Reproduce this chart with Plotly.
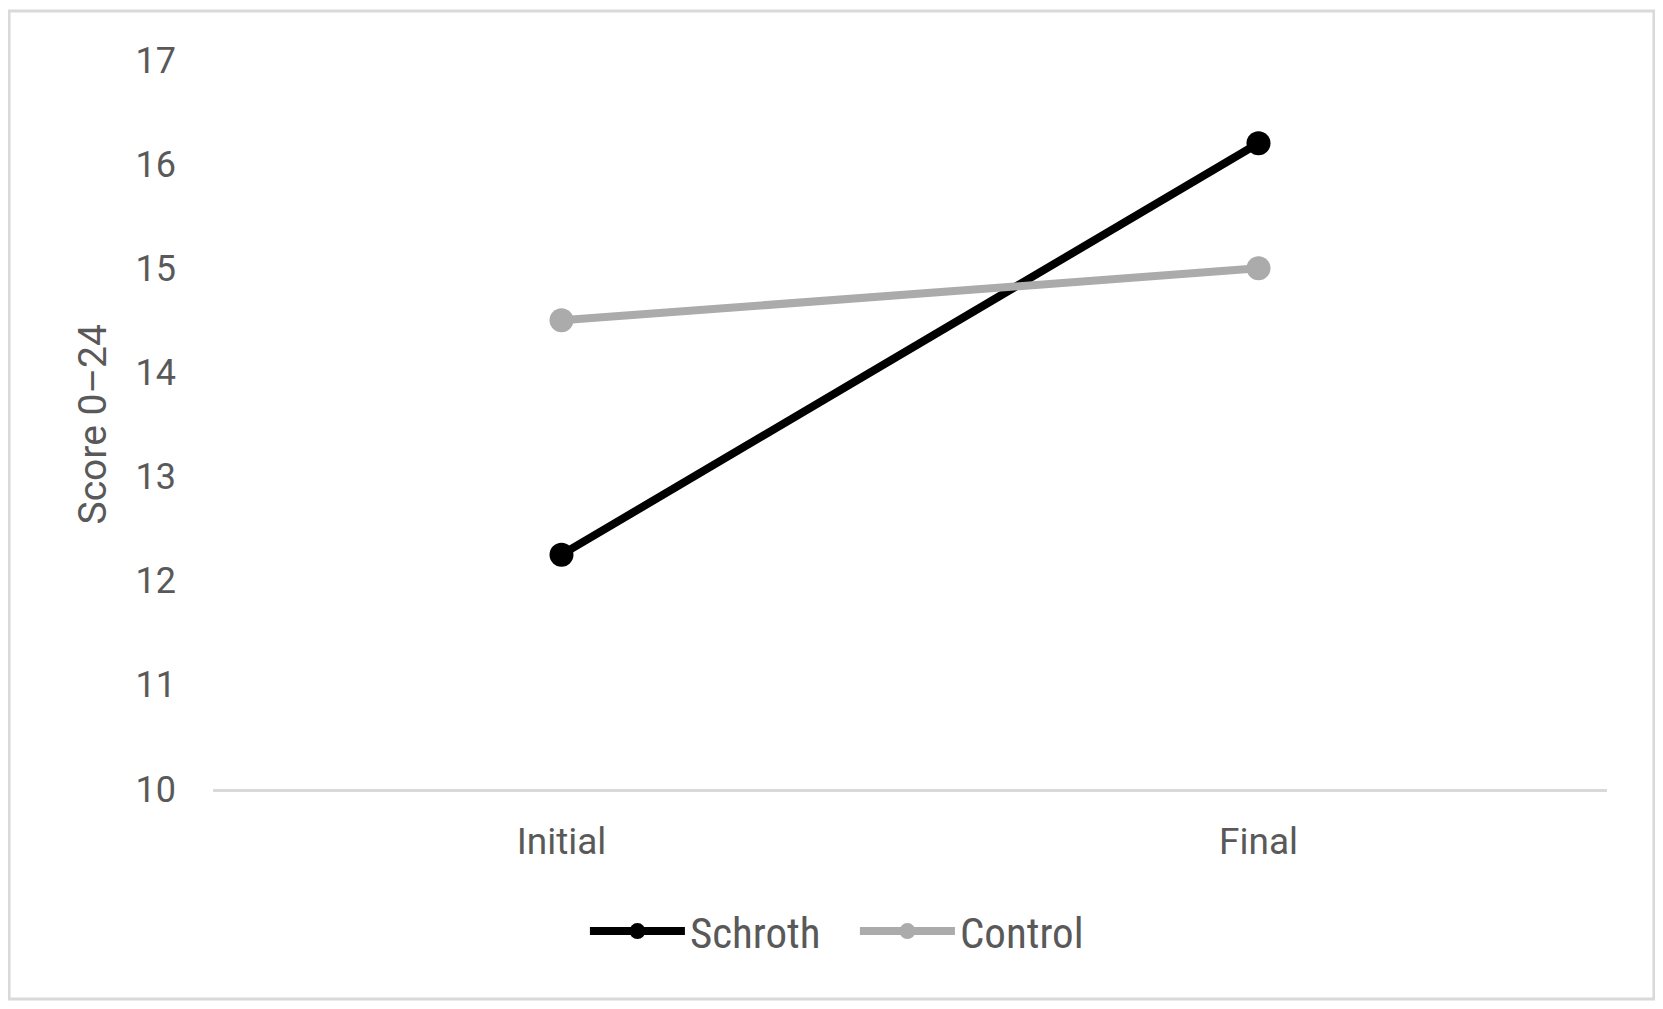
import plotly.graph_objects as go

# data
stages = ["Initial", "Final"]
schroth = [12.25, 16.2]
control = [14.5, 15.0]
y_ticks = [10, 11, 12, 13, 14, 15, 16, 17]

text_color = "#595959"
font_main = "Roboto, Open Sans, sans-serif"

fig = go.Figure()

series = [
    ("Schroth", schroth, "#000000"),
    ("Control", control, "#ABABAB"),
]
for name, vals, color in series:
    fig.add_trace(go.Scatter(
        x=stages, y=vals, name=name,
        mode="lines+markers",
        line=dict(color=color, width=8),
        marker=dict(color=color, size=24),
    ))

# outer chart border
fig.add_shape(
    type="rect", xref="paper", yref="paper",
    x0=-0.1463, x1=1.0337, y0=-0.2881, y1=1.0672,
    line=dict(color="#D9D9D9", width=3),
    fillcolor="rgba(0,0,0,0)",
)

# y axis title
fig.add_annotation(
    text="Score 0\u201324", xref="paper", yref="paper",
    x=-0.0868, y=0.5, xanchor="center", yanchor="middle",
    textangle=-90, showarrow=False,
    font=dict(family=font_main, size=39, color=text_color),
)

fig.update_layout(
    width=1647, height=993,
    margin=dict(l=205, r=48, t=52, b=212),
    plot_bgcolor="white", paper_bgcolor="white",
    showlegend=True,
    legend=dict(
        orientation="h", x=0.2668, xanchor="left",
        y=-0.195, yanchor="middle",
        itemwidth=95, entrywidth=160,
        font=dict(family="Liberation Sans Narrow, Roboto Condensed, Roboto", size=43, color=text_color),
    ),
    xaxis=dict(
        range=[-0.5, 1.5],
        showgrid=False, zeroline=False,
        showline=True, linecolor="#D9D9D9", linewidth=3,
        tickfont=dict(family=font_main, size=37, color=text_color),
        ticklabelstandoff=18,
    ),
    yaxis=dict(
        range=[10, 17], tickvals=y_ticks,
        showgrid=False, zeroline=False, showline=False,
        tickfont=dict(family=font_main, size=36, color=text_color),
        ticklabelstandoff=36,
    ),
)

fig.write_html("out.html")
